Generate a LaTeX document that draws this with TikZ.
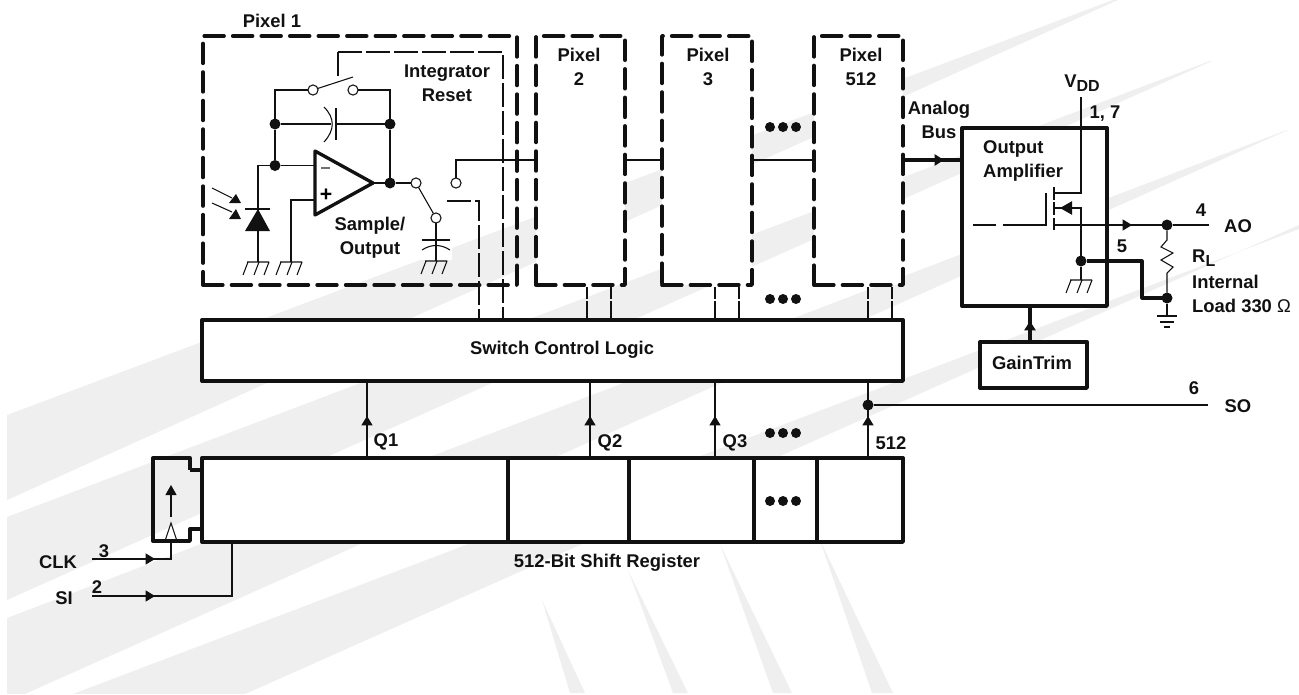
\documentclass[tikz,border=0pt]{standalone}
\usepackage{fontspec}
\setmainfont{Liberation Sans}
\usetikzlibrary{arrows.meta,positioning,calc}
\definecolor{ink}{HTML}{111111}
\definecolor{wash}{HTML}{EFEFEF}
\newcommand{\lowtxt}[1]{\raisebox{-3pt}{\fontsize{12}{12}\selectfont #1}}

\begin{document}
\begin{tikzpicture}[
  x=0.75pt, y=-0.75pt,
  every node/.style={font=\bfseries\fontsize{13.8}{18}\selectfont\color{ink}},
  wire/.style={draw=ink, line width=0.8pt},
  heavy/.style={draw=ink, line width=2.5pt, line join=round},
  fatwire/.style={draw=ink, line width=2.3pt, line join=round},
  ctrl/.style={wire, dash pattern=on 18pt off 3pt},
  sized/.style 2 args={minimum width=#1*0.75pt, minimum height=#2*0.75pt},
  blk/.style={heavy, fill=white, inner sep=0pt, outer sep=0pt, anchor=north west},
  pixbox/.style={blk, line width=2.8pt, line cap=round, dash pattern=on 14.8pt off 6.6pt},
  dot/.style={circle, fill=ink, minimum size=8.25pt, inner sep=0pt, outer sep=0pt},
  more/.style={circle, fill=ink, minimum size=7.5pt, inner sep=0pt, outer sep=0pt},
  contact/.style={circle, wire, fill=white, minimum size=7.6pt, inner sep=0pt, outer sep=0pt},
  tip/.style={wire, -{Triangle[length=7pt, width=8.25pt]}},
  fattip/.style={fatwire, -{Triangle[length=7pt, width=8.25pt]}},
  chassis/.pic={
    \draw[wire] (-11,0) -- (11,0) (-10,0) -- (-15,13) (1,0) -- (-4,13) (11,0) -- (6,13);
  },
  capfb/.pic={
    \draw[wire] (-8,-17) .. controls (3,-6) and (3,6) .. (-8,18);
    \draw[wire] (4,-16) -- (4,16);
  },
  capout/.pic={
    \draw[wire] (-14,0) -- (14,0);
    \draw[wire] (-14,10) .. controls (-5,4) and (5,4) .. (14,10);
  }
]
\useasboundingbox (0,0) rectangle (1299,694);

% --- watermark stripes
\begin{scope}
  \clip (7,0) rectangle (1299,693);
  \fill[wash] (7,415) -- (1113,0) -- (1118,0) -- (7,500) -- cycle;
  \fill[wash] (7,517) -- (1210,61) -- (1212,61) -- (7,600) -- cycle;
  \fill[wash] (7,618) -- (1287,130) -- (1288,130) -- (7,702) -- cycle;
  \fill[wash] (7,719) -- (1299,229) -- (1299,225) -- (7,800) -- cycle;
  \fill[wash] (542,600) -- (570,693) -- (585,693) -- cycle;
  \fill[wash] (628,570) -- (673,693) -- (688,693) -- cycle;
  \fill[wash] (720,544) -- (773,693) -- (792,693) -- cycle;
  \fill[wash] (820,540) -- (872,693) -- (893,693) -- cycle;
  \fill[white] (420,240) rectangle (452,260);
\end{scope}

% --- pixel boxes
\node[blk, pixbox, fill=none, sized={314}{249}] (pixA) at (203,36) {};
\node[blk, pixbox, sized={89}{249}] (pixB) at (536,36) {};
\node[blk, pixbox, sized={90}{249}] (pixC) at (662,36) {};
\node[blk, pixbox, sized={89}{249}] (pixN) at (814,36) {};
\node (pixAlbl) at (272,21) {Pixel 1};
\node[align=center] (pixBlbl) at (579,67) {Pixel\\2};
\node[align=center] (pixClbl) at (708,67) {Pixel\\3};
\node[align=center] (pixNlbl) at (861,67) {Pixel\\512};

% --- logic and register
\node[blk, sized={701}{61}] (logic) at (202,320) {};
\node[blk, sized={701}{84}] (shreg) at (202,458) {};
\node (logiclbl) at (562,350) {Switch Control Logic};
\node (shreglbl) at (607,563) {512-Bit Shift Register};
\coordinate (divAt) at (508,458); \coordinate (divAb) at (508,542);
\coordinate (divBt) at (629,458); \coordinate (divBb) at (629,542);
\coordinate (divCt) at (754,458); \coordinate (divCb) at (754,542);
\coordinate (divDt) at (817,458); \coordinate (divDb) at (817,542);
\draw[heavy] (divAt) -- (divAb);
\draw[heavy] (divBt) -- (divBb);
\draw[heavy] (divCt) -- (divCb);
\draw[heavy] (divDt) -- (divDb);

% --- the three dots
\foreach \y in {127,299,433,501}
  \foreach \x in {770,783,796}
    \node[more] (more\x-\y) at (\x,\y) {};

% --- pixel 1: integrator
\node[contact] (rsL) at (313,90) {};
\node[contact] (rsR) at (353,90) {};
\node[dot] (fbL) at (275,124) {};
\node[dot] (fbR) at (390,124) {};
\node[dot] (inJ) at (275,165.5) {};
\node[dot] (outJ) at (390,183) {};
\coordinate (rsLc) at (275,90);
\coordinate (rsRc) at (390,90);
\coordinate (rsArm) at (353,77);
\coordinate (rsCtl) at (338,76);
\coordinate (rsCa) at (338,52);
\coordinate (rsCb) at (503,52);
\coordinate (rsCc) at (503,320);
\draw[wire] (rsL) -- (rsLc) -- (fbL) -- (inJ);
\draw[wire] (rsR) -- (rsRc) -- (fbR) -- (outJ);
\draw[wire] (rsL) -- (rsArm);
\draw[wire] (rsCtl) -- (rsCa);
\draw[ctrl] (rsCa) -- (rsCb) -- (rsCc);
\pic at (332,124) {capfb};
\coordinate (capL) at (331,124);
\coordinate (capR) at (336,124);
\draw[wire] (fbL) -- (capL);
\draw[wire] (capR) -- (fbR);
\node (intlbl) [align=center] at (447,83.5) {Integrator\\Reset};

% op amp
\coordinate (oaA) at (315,151);
\coordinate (oaB) at (315,215);
\coordinate (oaC) at (373,183);
\coordinate (oaM) at (315,165.5);
\coordinate (oaP) at (315,200);
\fill[white] (oaA) -- (oaC) -- (oaB) -- cycle;
\draw[heavy] (oaA) -- (oaC) -- (oaB) -- cycle;
\draw[wire] (oaC) -- (outJ);
\node[font=\bfseries\fontsize{16}{16}\selectfont] (oaPlus) at (326,195) {+};
\coordinate (oaMa) at (321,168); \coordinate (oaMb) at (330,168);
\draw[wire, draw=ink!60] (oaMa) -- (oaMb);

% photodiode
\coordinate (pdT) at (258,165.5);
\coordinate (pdA) at (258,209);
\coordinate (pdB) at (258,262);
\coordinate (pdBarL) at (245,209);
\coordinate (pdBarR) at (270,209);
\draw[wire] (inJ) -- (pdT) -- (pdB);
\draw[wire] (inJ) -- (oaM);
\draw[wire] (pdBarL) -- (pdBarR);
\fill[ink] (pdA) -- (270,231) -- (245,231) -- cycle;
\pic at (pdB) {chassis};
\coordinate (lgtAa) at (212,188); \coordinate (lgtAb) at (232,198);
\coordinate (lgtBa) at (212,203); \coordinate (lgtBb) at (232,212);
\draw[wire] (lgtAa) -- (lgtAb);
\draw[wire] (lgtBa) -- (lgtBb);
\fill[ink] (236,194) -- (241,203) -- (229,203) -- cycle;
\fill[ink] (236,209) -- (241,219) -- (229,219) -- cycle;

% plus input
\coordinate (plC) at (291,200);
\coordinate (plB) at (291,262);
\draw[wire] (oaP) -- (plC) -- (plB);
\pic at (plB) {chassis};

% sample switch
\node[contact] (smA) at (416,183) {};
\node[contact] (smB) at (436,218) {};
\node[contact] (smC) at (456,183) {};
\coordinate (smCa) at (456,160);
\coordinate (pixBin) at (536,160);
\coordinate (capO) at (436,240);
\coordinate (capG) at (436,261);
\draw[wire] (outJ) -- (smA);
\draw[wire] (smA) -- (smB);
\draw[wire] (smB) -- (capG);
\draw[wire] (smC) -- (smCa) -- (pixBin);
\pic at (capO) {capout};
\pic at (capG) {chassis};
\coordinate (smDa) at (447,201);
\coordinate (smDb) at (479,201);
\coordinate (smDc) at (479,320);
\draw[ctrl] (smDa) -- (smDb) -- (smDc);
\node (smplbl) [align=center] at (370,238) {Sample/\\Output};

% --- analog line
\coordinate (lineBo) at (625,160); \coordinate (lineCi) at (662,160);
\coordinate (lineCo) at (752,160); \coordinate (lineNi) at (814,160);
\coordinate (lineNo) at (903,160); \coordinate (lineTip) at (944,160);
\coordinate (ampIn) at (962,160);
\draw[wire] (lineBo) -- (lineCi);
\draw[wire] (lineCo) -- (lineNi);
\draw[fatwire] (lineNo) -- (ampIn);
\draw[fattip] (lineNo) -- (lineTip);
\node[align=center] (linelbl) at (939,120) {Analog\\Bus};

% --- control stubs
\foreach \x in {587,611,715,739,868,892} {
  \coordinate (stubT\x) at (\x,287);
  \coordinate (stubB\x) at (\x,320);
  \draw[wire, dash pattern=on 9pt off 1.5pt on 30pt off 0pt] (stubT\x) -- (stubB\x);
}

% --- register outputs
\foreach \x/\name in {367/qa,590/qb,715/qc,868/qn} {
  \coordinate (\name t) at (\x,381);
  \coordinate (\name a) at (\x,416);
  \coordinate (\name b) at (\x,458);
}
\draw[wire] (qat) -- (qab);
\draw[wire] (qbt) -- (qbb);
\draw[wire] (qct) -- (qcb);
\draw[wire] (qnt) -- (qnb);
\draw[tip] (qab) -- (qaa);
\draw[tip] (qbb) -- (qba);
\draw[tip] (qcb) -- (qca);
\draw[tip] (qnb) -- (qna);
\node (qalbl) at (386,442) {Q1};
\node (qblbl) at (610,443) {Q2};
\node (qclbl) at (735,443) {Q3};
\node (qnlbl) at (891,443) {512};
\node[dot] (soJ) at (868,405) {};
\coordinate (soEnd) at (1208,405);
\draw[wire] (soJ) -- (soEnd);
\node (solbl) at (1238,406) {SO};
\node (sonum) at (1194,388) {6};

% --- clock stage
\draw[heavy] (190,470) -- (190,458) -- (153,458) -- (153,541) -- (190,541) -- (190,529) -- (202,529);
\draw[heavy] (190,470) -- (202,470);
\coordinate (ckA) at (171,517);
\coordinate (ckB) at (171,485);
\draw[wire, -{Triangle[length=7.5pt, width=8.25pt]}] (ckA) -- (ckB);
\coordinate (ckBase) at (171,541);
\draw[wire] (165,541) -- (171,523) -- (177,541);
\coordinate (ckL) at (92,559);
\coordinate (ckH) at (155,559);
\coordinate (ckC) at (171,559);
\coordinate (siL) at (92,596);
\coordinate (siH) at (155,596);
\coordinate (siC) at (232,596);
\coordinate (siT) at (232,542);
\draw[wire] (ckL) -- (ckC) -- (ckBase);
\draw[tip] (ckL) -- (ckH);
\draw[wire] (siL) -- (siC) -- (siT);
\draw[tip] (siL) -- (siH);
\node (cklbl) at (58,562) {CLK};
\node (silbl) at (64,598) {SI};
\node (cknum) at (104,551) {3};
\node (sinum) at (97,587) {2};

% --- output amplifier
\node[blk, sized={145}{178}] (amp) at (962,128) {};
\node[blk, sized={107}{46}] (trim) at (980,342) {};
\node (trimlbl) at (1032,363) {GainTrim};
\coordinate (trimT) at (1030,342);
\coordinate (ampB) at (1030,306);
\coordinate (trimH) at (1030,321);
\draw[fatwire] (trimT) -- (ampB);
\draw[fattip] (trimT) -- (trimH);
\node[align=left, anchor=west] (amplbl) at (978.5,161) {Output\\Amplifier};
\node (vddlbl) at (1082,83) {V\lowtxt{DD}};
\node (pinlbl) at (1105,114) {1, 7};

% mosfet
\coordinate (vddT) at (1081,97);
\coordinate (vddC) at (1081,193);
\coordinate (chD) at (1054,193);
\coordinate (chS) at (1054,208);
\coordinate (chO) at (1054,225);
\coordinate (srcC) at (1081,208);
\coordinate (srcTip) at (1060,208);
\coordinate (gateT) at (1046,193);
\coordinate (gateB) at (1046,225);
\coordinate (gateA) at (1003,225);
\coordinate (gateX) at (996,225);
\coordinate (gateY) at (973,225);
\draw[wire] (vddT) -- (vddC) -- (chD);
\draw[wire] (1054,187) -- (1054,200) (1054,202) -- (1054,215) (1054,218) -- (1054,230);
\draw[wire] (gateT) -- (gateB) -- (gateA);
\draw[wire] (gateX) -- (gateY);
\node[dot] (gndJ) at (1081,261) {};
\coordinate (gndB) at (1081,280);
\draw[wire] (chS) -- (srcC) -- (gndJ) -- (gndB);
\draw[wire, -{Triangle[length=9pt, width=10pt]}] (srcC) -- (srcTip);
\pic at (gndB) {chassis};

% output pin and load
\node[dot] (aoJ) at (1167,225) {};
\node[dot] (rlJ) at (1167,298) {};
\coordinate (aoEnd) at (1209,225);
\coordinate (aoTip) at (1132,225);
\coordinate (loadA) at (1142,261);
\coordinate (loadB) at (1142,298);
\draw[wire] (chO) -- (aoJ) -- (aoEnd);
\draw[tip] (chO) -- (aoTip);
\draw[fatwire] (gndJ) -- (loadA) -- (loadB) -- (rlJ);
\draw[wire] (aoJ) -- (1167,240) -- (1161,247) -- (1173,253) -- (1161,260) -- (1173,267) -- (1167,273) -- (rlJ);
\coordinate (earthT) at (1167,316);
\draw[wire] (rlJ) -- (earthT);
\draw[wire] (1157,316) -- (1177,316) (1160,322) -- (1174,322) (1164,327) -- (1170,327);
\node (aonum) at (1201,210) {4};
\node (aolbl) at (1238,226) {AO};
\node (gndnum) at (1122,246) {5};
\node[anchor=west] (rllbl) at (1187.5,258) {R\lowtxt{L}};
\node[align=left, anchor=west] (loadlbl) at (1187.5,294) {Internal\\Load 330 {\mdseries Ω}};

\end{tikzpicture}
\end{document}
